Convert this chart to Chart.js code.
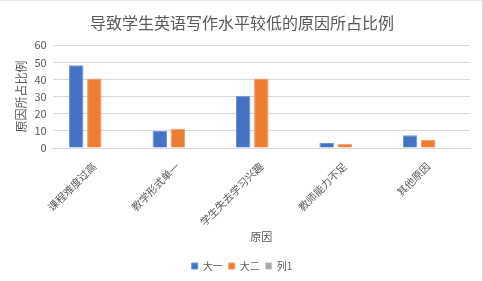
<!DOCTYPE html>
<html><head><meta charset="utf-8">
<script src="https://cdn.jsdelivr.net/npm/chart.js@4/dist/chart.umd.min.js"></script>
<style>
html,body{margin:0;padding:0;background:#fff;}
#wrap{position:absolute;left:0;top:0;width:482px;height:280px;border-right:1px solid #d9d9d9;border-top:1px solid #e6e6e6;}
canvas{display:block;}
</style></head><body>
<div id="wrap"><canvas id="c" width="482" height="280"></canvas></div>
<script>
const categories = ["课程难度过高","教学形式单一","学生失去学习兴趣","教师能力不足","其他原因"];
const seriesNames = ["大一","大二","列1"];
const dayi = [48.3, 10.1, 30.5, 2.9, 7.4];
const daer = [40.5, 11.3, 40.6, 2.5, 4.7];
const lie1 = [null, null, null, null, null];
const yTicks = [0,10,20,30,40,50,60];

const FONT = "'Noto Sans CJK SC', 'Liberation Sans', sans-serif";
const colors = ["#4472C4","#ED7D31","#A5A5A5"];
const borders = ["#6E95DA","#F3A06A","#C0C0C0"];

new Chart(document.getElementById('c'), {
  type: 'bar',
  data: {
    labels: categories,
    datasets: [dayi, daer, lie1].map((d,i)=>({
      label: seriesNames[i], data: d,
      backgroundColor: colors[i], borderColor: borders[i], borderWidth: 1,
      categoryPercentage: 0.65, barPercentage: 0.8
    }))
  },
  options: {
    responsive: false, animation: false,
    layout: {padding: {left: 14, right: 12, top: 4, bottom: 0}},
    plugins: {
      title: {display: true, text: "导致学生英语写作水平较低的原因所占比例", color: "#595959",
        font: {family: FONT, size: 16, weight: 'normal'}, padding: {top: 8, bottom: 13}},
      legend: {position: 'bottom', labels: {boxWidth: 6, boxHeight: 6, color: "#595959",
        font: {family: FONT, size: 10}, padding: 6}},
      tooltip: {enabled: false}
    },
    scales: {
      x: {
        afterFit: ax => { ax.height = 107; },
        grid: {display: false},
        border: {color: "#d9d9d9"},
        ticks: {color: "#595959", font: {family: FONT, size: 10.5}, minRotation: 45, maxRotation: 45, padding: 4, autoSkip: false},
        title: {display: true, text: "原因", color: "#595959", font: {family: FONT, size: 11}, padding: {top: 4, bottom: 12}}
      },
      y: {
        min: 0, max: 60,
        afterBuildTicks: ax => { ax.ticks = yTicks.map(v=>({value:v})); },
        grid: {color: "#d9d9d9", drawTicks: false},
        border: {display: false},
        ticks: {color: "#595959", font: {family: FONT, size: 11}, padding: 6, autoSkip: false},
        title: {display: true, text: "原因所占比例", color: "#595959", font: {family: FONT, size: 12}, padding: {top: 0, bottom: 0}}
      }
    }
  }
});
</script></body></html>
